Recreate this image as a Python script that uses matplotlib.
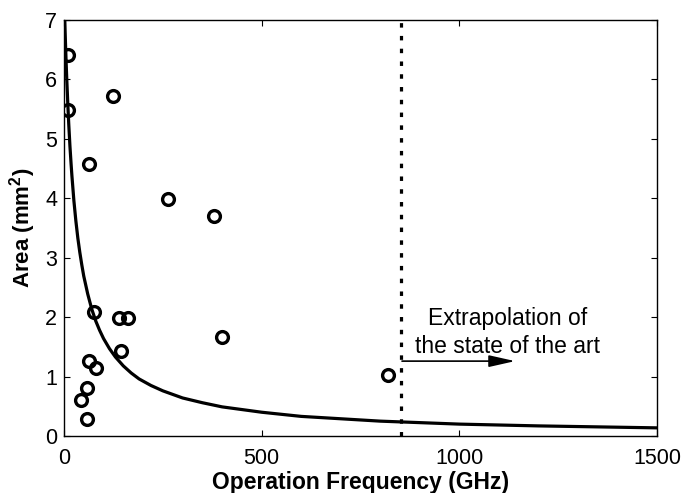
import numpy as np
import matplotlib
matplotlib.use('Agg')
import matplotlib.pyplot as plt

plt.rcParams['font.family'] = ['Liberation Sans', 'DejaVu Sans']
plt.rcParams['mathtext.fontset'] = 'custom'
plt.rcParams['mathtext.rm'] = 'Liberation Sans'
plt.rcParams['mathtext.bf'] = 'Liberation Sans:bold'

# published designs: operation frequency (GHz) vs area (mm^2)
freq = [10, 10, 124, 62, 262, 380, 77, 138, 162, 400, 143, 62, 82, 57, 44, 57, 820]
area = [6.41, 5.49, 5.72, 4.58, 3.99, 3.70, 2.09, 1.99, 1.99, 1.67, 1.43, 1.26, 1.14, 0.81, 0.61, 0.29, 1.03]

# trend curve
trend_f = [2, 3, 4, 5, 7, 10, 12, 15, 18, 20, 25, 30, 35, 40, 45, 50, 60, 70, 80,
           90, 100, 115, 130, 150, 170, 190, 220, 250, 300, 350, 400, 500, 600,
           700, 800, 1000, 1200, 1500]
trend_a = [7.00, 6.77, 6.56, 6.36, 6.00, 5.53, 5.25, 4.88, 4.57, 4.38, 3.96, 3.62,
           3.33, 3.09, 2.88, 2.69, 2.39, 2.14, 1.94, 1.78, 1.64, 1.47, 1.33, 1.18,
           1.06, 0.96, 0.85, 0.76, 0.64, 0.56, 0.49, 0.40, 0.33, 0.29, 0.25, 0.20,
           0.17, 0.137]

limit_f = 852
arrow_y = 1.26
arrow_end = 1141
note = 'Extrapolation of\nthe state of the art'

fig = plt.figure(figsize=(6.84, 4.93), dpi=100)
ax = fig.add_axes([64 / 684, 57 / 493, 593 / 684, 416 / 493])

ax.plot(trend_f, trend_a, color='black', lw=2.3, solid_joinstyle='round')
ax.plot(freq, area, 'o', mfc='none', mec='black', ms=8.5, mew=2.4)
ax.plot([limit_f, limit_f], [0, 7], color='black', lw=2.3, linestyle=(0, (1.4, 2.6)),
        clip_on=False)

ax.annotate('', xy=(arrow_end, arrow_y), xytext=(limit_f + 3, arrow_y),
            arrowprops=dict(arrowstyle='-|>,head_length=0.8,head_width=0.18',
                            color='black', lw=1.2, mutation_scale=20,
                            shrinkA=0, shrinkB=0))
ax.text(1123, 1.40, note, ha='center', va='baseline', fontsize=16.5, linespacing=1.25)

ax.set_xlim(0, 1500)
ax.set_ylim(0, 7)
ax.set_xticks([0, 500, 1000, 1500])
ax.set_yticks(range(8))
ax.tick_params(direction='in', top=True, right=True, labelsize=15.5, length=4.3, width=0.8)
ax.tick_params(axis='x', pad=9)
ax.tick_params(axis='y', pad=5)
for s in ax.spines.values():
    s.set_linewidth(1.0)

ax.set_xlabel('Operation Frequency (GHz)', fontsize=16.5, fontweight='bold')
ax.xaxis.label.set_va('baseline')
ax.xaxis.set_label_coords(0.5, (3.7 - 57) / 416)
ax.set_ylabel(r'Area (mm$^\mathbf{2}$)', fontsize=16, fontweight='bold')
ax.yaxis.label.set_va('center')
ax.yaxis.set_label_coords((23 - 64) / 593, 0.5)

fig.savefig('out.png', dpi=100)
